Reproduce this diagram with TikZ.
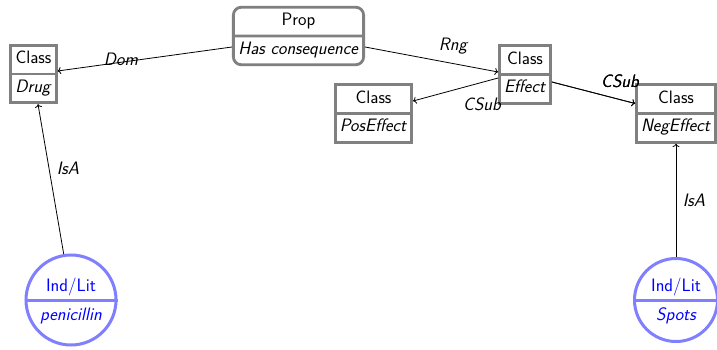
\documentclass[tikz,border=0pt]{standalone}
\usetikzlibrary{shapes.multipart,arrows.meta}
\tikzset{
  x=1pt, y=-1pt,
  every node/.style={font=\fontsize{18}{20}\selectfont\sffamily},
  cls/.style={rectangle split, rectangle split parts=2, draw=gray, line width=2.8pt,
    inner xsep=4.5pt, inner ysep=3pt, fill=white},
  prop/.style={cls, rounded corners=8pt, inner xsep=5pt},
  indlit/.style={circle, draw=blue!50, line width=3pt, fill=white},
  indtxt/.style={text=blue, inner sep=0pt},
  rel/.style={->, line width=0.8pt},
  lab/.style={font=\fontsize{18}{20}\selectfont\sffamily\itshape, inner sep=0pt}
}
\begin{document}
\begin{tikzpicture}
\useasboundingbox (0,0) rectangle (717,350);
\node[cls] (drug) at (33.5,74) {\strut Class\nodepart{two}\strut\textit{Drug}};
\node[prop] (prop) at (298.5,36) {\strut Prop\nodepart{two}\strut\textit{Has consequence}};
\node[cls] (effect) at (525,74.5) {\strut Class\nodepart{two}\strut\textit{Effect}};
\node[cls] (pos) at (373.5,113.5) {\strut Class\nodepart{two}\strut\textit{PosEffect}};
\node[cls] (neg) at (676,113.5) {\strut Class\nodepart{two}\strut\textit{NegEffect}};
% individuals
\node[indlit, minimum size=90pt] (pen) at (71,300) {};
\draw[blue!50, line width=3pt] (pen.west) -- (pen.east);
\node[indtxt] (pent) at (71,287) {Ind/Lit};
\node[indtxt] (penb) at (71,316) {\itshape penicillin};
\node[indlit, minimum size=83pt] (spots) at (676,300) {};
\draw[blue!50, line width=3pt] (spots.west) -- (spots.east);
\node[indtxt] (spt) at (676,287) {Ind/Lit};
\node[indtxt] (spb) at (676,316) {\itshape Spots};
% relations
\draw[rel] ([yshift=-11pt]prop.west) -- ([yshift=3pt]drug.east);
\node[lab] (dom) at (121,59) {Dom};
\draw[rel] ([yshift=-11pt]prop.east) -- ([yshift=2.5pt]effect.west);
\node[lab] (rng) at (453,46) {Rng};
\draw[rel] ([yshift=-3.5pt]effect.west) -- ([yshift=12.5pt]pos.east);
\node[lab] (cs1) at (482,104) {CSub};
\draw[rel] ([yshift=-7.5pt]effect.east) -- ([yshift=10pt]neg.west);
\draw[rel] ([yshift=-7.5pt]effect.east) -- ([yshift=10pt]neg.west);
\node[lab] (cs2) at (620,81) {CSub};
\node[lab] (cs2b) at (620,81) {CSub};
\draw[rel] (pen.99) -- ([xshift=4.5pt]drug.south);
\node[lab] (isa1) at (68,168) {IsA};
\draw[rel] (spots.north) -- (neg.south);
\node[lab] (isa2) at (694,200) {IsA};
\end{tikzpicture}
\end{document}
